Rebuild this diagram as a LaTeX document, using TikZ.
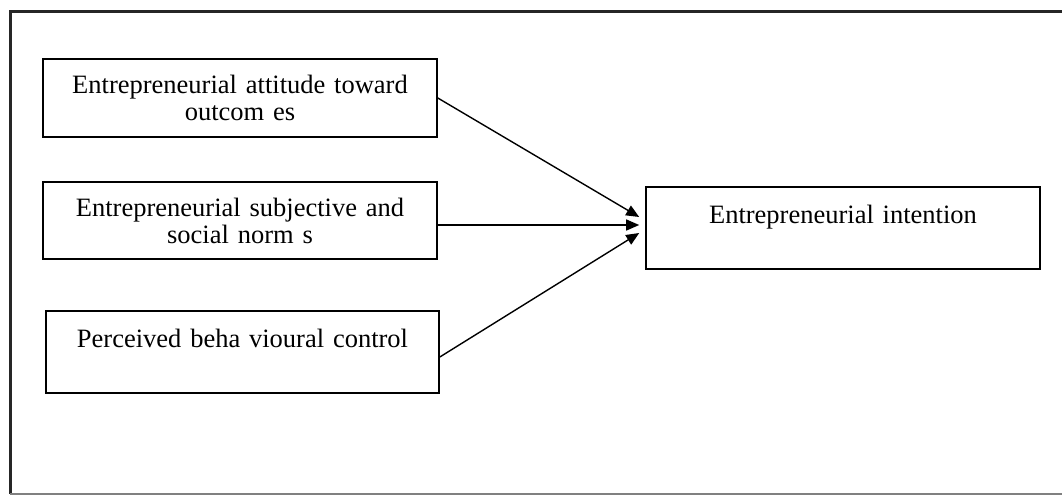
\documentclass[tikz,border=0pt]{standalone}
\usepackage{fontspec}
\setmainfont{Liberation Serif}
\usepackage{tikz}
\usetikzlibrary{positioning,arrows.meta}

\begin{document}
\begin{tikzpicture}[x=1pt, y=-1pt,
        factor/.style={draw, line width=1.6pt, align=center, text width=380pt,
            inner sep=0pt, font=\fontsize{26.5}{27}\selectfont},
        link/.style={line width=1.4pt, -{Triangle[length=13pt, width=11pt]}}]
        \useasboundingbox (0,0) rectangle (1062,496);

        % Frame
        \draw[line width=3pt, black!85] (10,494) -- (10,11) -- (1062,11);
        \draw[line width=1.5pt, gray] (10,494) -- (1062,494);

        % Boxes
        \node[factor, minimum width=394pt, minimum height=78pt] (att) at (240,98)
            {Entrepreneurial attitude toward\\outcom es};
        \node[factor, minimum width=394pt, minimum height=77pt] (norm) at (240,220.5)
            {Entrepreneurial subjective and\\social norm s};
        \node[factor, minimum width=393pt, minimum height=82pt] (pbc) at (242.5,352)
            {Perceived beha vioural control\\\mbox{}};
        \node[factor, minimum width=394pt, minimum height=82pt] (int) at (843,228)
            {Entrepreneurial intention\\\mbox{}};

        % Arrows
        \draw[link] (att.east) -- ([xshift=-6pt, yshift=11pt]int.west);
        \draw[link] ([yshift=-4.5pt]norm.east) -- ([xshift=-6pt, yshift=3pt]int.west);
        \draw[link] ([yshift=-5pt]pbc.east) -- ([xshift=-6pt, yshift=-5pt]int.west);
    \end{tikzpicture}
\end{document}
